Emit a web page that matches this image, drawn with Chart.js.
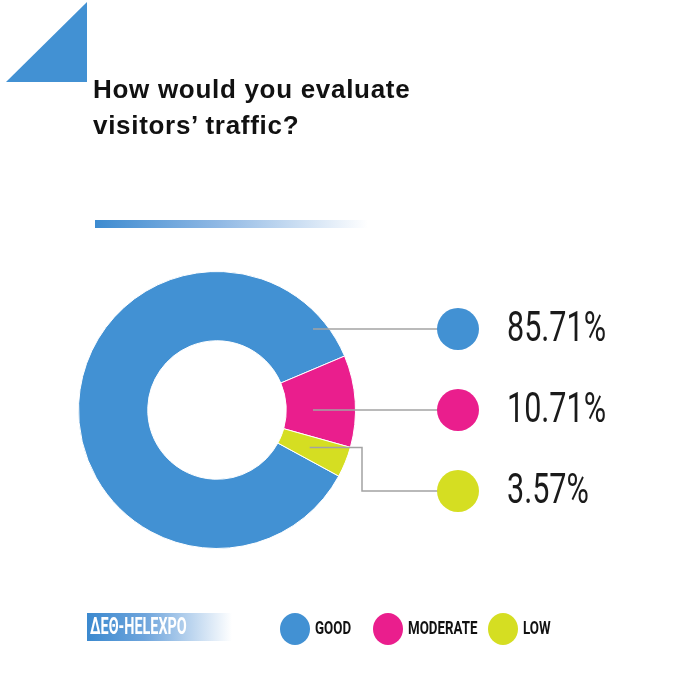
<!DOCTYPE html>
<html>
<head>
<meta charset="utf-8">
<script src="https://cdn.jsdelivr.net/npm/chart.js@4"></script>
<style>
  html, body { margin: 0; padding: 0; background: #fff; }
  #wrap { position: relative; width: 700px; height: 700px; overflow: hidden; }
  #title { position: absolute; left: 93px; top: 71px; font-family: "Liberation Sans", Arial, sans-serif;
           font-weight: bold; font-size: 26px; line-height: 36px; color: #111; letter-spacing: 0.7px; }
  canvas { position: absolute; left: 0; top: 0; }
</style>
</head>
<body>
<div id="wrap">
  <canvas id="c" width="700" height="700"></canvas>
  <div id="title">How would you evaluate<br>visitors’ traffic?</div>
</div>
<script>
const categories = ['GOOD', 'MODERATE', 'LOW'];
const values = [85.71, 10.71, 3.57];
const valueLabels = ['85.71%', '10.71%', '3.57%'];
const colors = ['#4291d3', '#ea1e8d', '#d5de22'];
const brandLabel = 'ΔΕΘ-HELEXPO';

function condensedText(ctx, text, x, y, font, color, sx, align) {
  ctx.save();
  ctx.font = font;
  ctx.fillStyle = color;
  ctx.textBaseline = 'middle';
  ctx.textAlign = 'left';
  const w = ctx.measureText(text).width * sx;
  let left = x;
  if (align === 'center') left = x - w / 2;
  ctx.translate(left, y);
  ctx.scale(sx, 1);
  ctx.fillText(text, 0, 0);
  ctx.restore();
  return w;
}

function normAngle(a) {
  const t = Math.PI * 2;
  return ((a % t) + t) % t;
}
function inArc(ang, s, e) {
  const span = e - s;
  const d = normAngle(ang - s);
  return d >= 0 && d <= span;
}

const decor = {
  id: 'decor',
  beforeDraw(chart) {
    const ctx = chart.ctx;
    ctx.save();
    ctx.fillStyle = '#4291d3';
    ctx.beginPath();
    ctx.moveTo(87, 2); ctx.lineTo(87, 82); ctx.lineTo(6, 82); ctx.closePath();
    ctx.fill();
    let g = ctx.createLinearGradient(95, 0, 368, 0);
    g.addColorStop(0, '#3d8bd0'); g.addColorStop(0.45, '#8fb8e4'); g.addColorStop(1, 'rgba(255,255,255,1)');
    ctx.fillStyle = g;
    ctx.fillRect(95, 220, 273, 8);
    g = ctx.createLinearGradient(87, 0, 232, 0);
    g.addColorStop(0, '#3b89cf'); g.addColorStop(0.4, '#6fa5dc'); g.addColorStop(1, 'rgba(255,255,255,1)');
    ctx.fillStyle = g;
    ctx.fillRect(87, 613, 145, 28);
    ctx.restore();
    condensedText(ctx, brandLabel, 90, 628, 'bold 24px Roboto, "Liberation Sans", sans-serif', '#ffffff', 0.6, 'left');
  },
  afterDatasetsDraw(chart) {
    const ctx = chart.ctx;
    const arcs = chart.getDatasetMeta(0).data;
    const cx = arcs[0].x, cy = arcs[0].y;
    const markerX = 458;
    const markerYs = [cy - 81, cy, cy + 81];
    const startDx = 96;
    ctx.save();
    ctx.strokeStyle = '#a3a3a3';
    ctx.lineWidth = 1.5;
    arcs.forEach((a, i) => {
      const my = markerYs[i];
      const straightAng = Math.atan2(my - cy, startDx);
      ctx.beginPath();
      if (inArc(straightAng, a.startAngle, a.endAngle)) {
        ctx.moveTo(cx + startDx, my);
      } else {
        const mid = (a.startAngle + a.endAngle) / 2;
        const r = 100;
        const sx = cx + r * Math.cos(mid), sy = cy + r * Math.sin(mid);
        const ex = cx + 145;
        ctx.moveTo(sx, sy);
        ctx.lineTo(ex, sy);
        ctx.lineTo(ex, my);
      }
      ctx.lineTo(markerX - 20, my);
      ctx.stroke();
    });
    ctx.restore();
    arcs.forEach((a, i) => {
      const my = markerYs[i];
      ctx.save();
      ctx.fillStyle = colors[i];
      ctx.beginPath(); ctx.arc(markerX, my, 21, 0, Math.PI * 2); ctx.fill();
      ctx.restore();
      condensedText(ctx, valueLabels[i], 507, my + 1, '400 43px Roboto, "Liberation Sans", sans-serif', '#1a1a1a', 0.71, 'left');
    });
    const legendX = [295, 388, 503];
    const ly = 629;
    categories.forEach((c, i) => {
      ctx.save();
      ctx.fillStyle = colors[i];
      ctx.beginPath(); ctx.ellipse(legendX[i], ly, 15, 16, 0, 0, Math.PI * 2); ctx.fill();
      ctx.restore();
      condensedText(ctx, c, legendX[i] + 20, ly, 'bold 18px Roboto, "Liberation Sans", sans-serif', '#111', 0.74, 'left');
    });
  }
};

new Chart(document.getElementById('c'), {
  type: 'doughnut',
  data: {
    labels: categories,
    datasets: [{
      data: values,
      backgroundColor: colors,
      borderColor: '#ffffff',
      borderWidth: 1,
      hoverOffset: 0
    }]
  },
  options: {
    responsive: false,
    animation: false,
    devicePixelRatio: 1,
    rotation: 118.5,
    cutout: '50%',
    layout: { padding: { left: 78, right: 344, top: 271, bottom: 151 } },
    plugins: { legend: { display: false }, title: { display: false }, tooltip: { enabled: false } }
  },
  plugins: [decor]
});
</script>
</body>
</html>
